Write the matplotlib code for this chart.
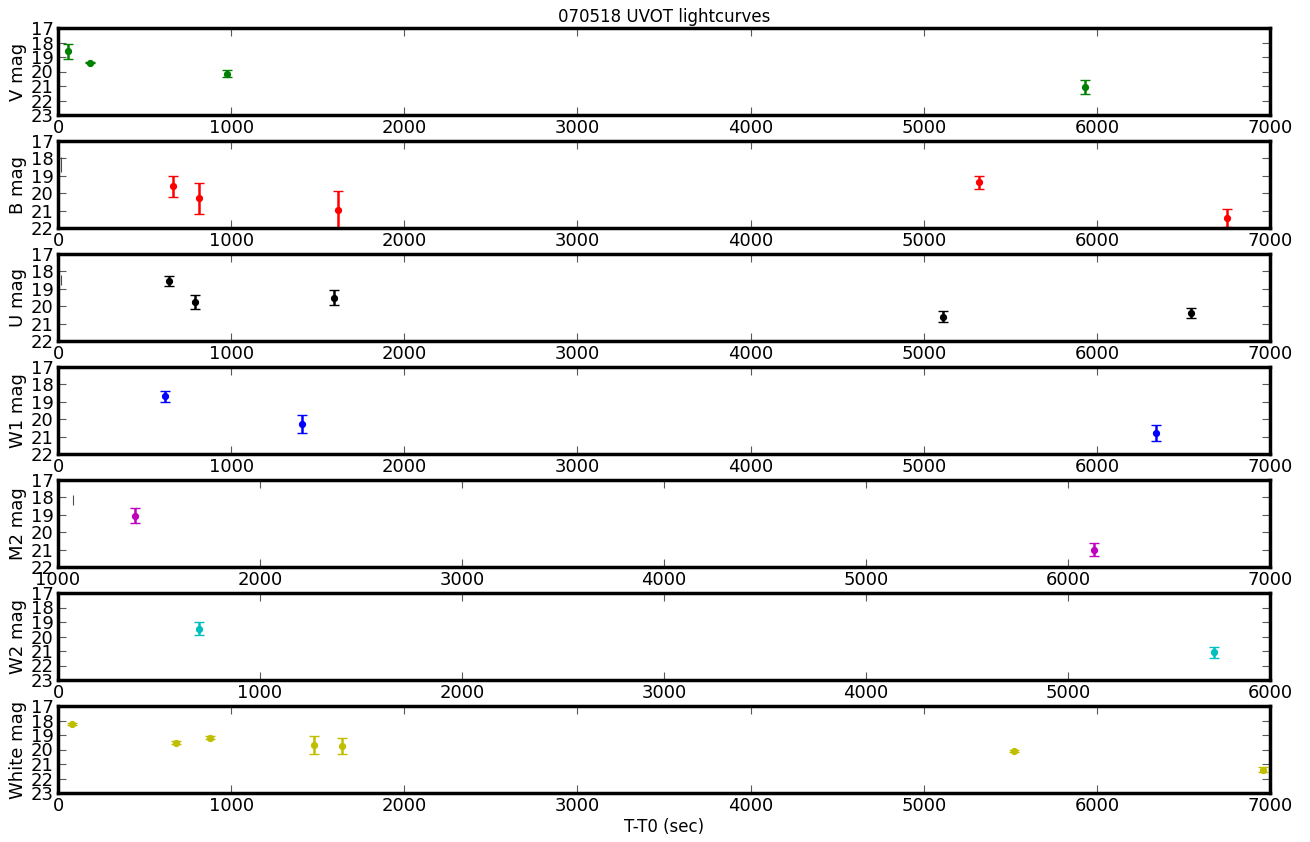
import matplotlib
matplotlib.use("Agg")
import matplotlib.pyplot as plt

# UVOT photometry per filter: time since trigger (s), magnitude, 1-sigma error
v_t = [58, 187, 978, 5930]
v_mag = [18.62, 19.38, 20.16, 21.07]
v_err = [0.5, 0.06, 0.25, 0.5]

b_t = [663, 817, 1617, 5318, 6752]
b_mag = [19.6, 20.3, 20.95, 19.38, 21.43]
b_err = [0.6, 0.87, 1.05, 0.37, 0.52]

u_t = [641, 794, 1594, 5113, 6545]
u_mag = [18.55, 19.77, 19.5, 20.6, 20.38]
u_err = [0.31, 0.4, 0.45, 0.33, 0.3]

w1_t = [617, 1409, 6339]
w1_mag = [18.69, 20.26, 20.8]
w1_err = [0.3, 0.52, 0.44]

m2_t = [1383, 6131]
m2_mag = [19.06, 21.0]
m2_err = [0.43, 0.37]

w2_t = [696, 5722]
w2_mag = [19.45, 21.09]
w2_err = [0.42, 0.38]

white_t = [81, 682, 875, 1481, 1641, 5520, 6957]
white_mag = [18.22, 19.52, 19.18, 19.7, 19.78, 20.12, 21.38]
white_err = [0.07, 0.1, 0.1, 0.6, 0.56, 0.08, 0.15]

# faint detections drawn as bare bars: (time, bright end, faint end)
b_bar = (17, 17.93, 18.8)
u_bar = (20, 18.18, 18.8)
m2_bar = (1076, 17.87, 18.44)

filters = ["V", "B", "U", "W1", "M2", "W2", "White"]
colors = ["g", "r", "k", "b", "m", "c", "y"]
times = [v_t, b_t, u_t, w1_t, m2_t, w2_t, white_t]
mags = [v_mag, b_mag, u_mag, w1_mag, m2_mag, w2_mag, white_mag]
errs = [v_err, b_err, u_err, w1_err, m2_err, w2_err, white_err]
xlims = [(0, 7000)] * 4 + [(1000, 7000), (0, 6000), (0, 7000)]
ylims = [(23, 17), (22, 17), (22, 17), (22, 17), (22, 17), (23, 17), (23, 17)]
bars = {1: b_bar, 2: u_bar, 4: m2_bar}

W, H = 1310, 842
fig = plt.figure(figsize=(W / 100, H / 100), dpi=100)

left, width = 58, 1212
top0, step, height = 28, 113, 87

axes = []
for i, name in enumerate(filters):
    top = top0 + i * step
    ax = fig.add_axes([left / W, 1 - (top + height) / H, width / W, height / H])
    ax.errorbar(times[i], mags[i], yerr=errs[i], fmt="o", color=colors[i],
                ms=4.2, elinewidth=1.8, capsize=3.5, capthick=1.0,
                markeredgecolor=colors[i])
    if i in bars:
        bt, lo, hi = bars[i]
        ax.vlines(bt, lo, hi, color="0.3", lw=0.8)
    ax.set_xlim(*xlims[i])
    ax.set_ylim(*ylims[i])
    lo_y, hi_y = ylims[i][1], ylims[i][0]
    ax.set_yticks(range(lo_y, hi_y + 1))
    ax.set_ylabel(name + " mag", fontsize=13, labelpad=3)
    for sp in ax.spines.values():
        sp.set_linewidth(2.5)
    ax.tick_params(direction="in", length=6, width=0.8, color="0.35",
                   top=True, right=True, labelsize=13, pad=3)
    axes.append(ax)

axes[0].set_title("070518 UVOT lightcurves", fontsize=12, pad=4)
axes[-1].set_xlabel("T-T0 (sec)", fontsize=12, labelpad=2)

fig.savefig("out.png", dpi=100)
